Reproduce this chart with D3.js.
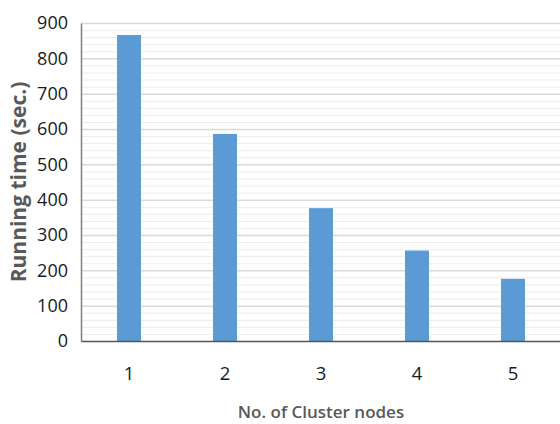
<!DOCTYPE html>
<html><head><meta charset="utf-8">
<script src="https://cdn.jsdelivr.net/npm/d3@7"></script>
<style>html,body{margin:0;padding:0;background:#fff;overflow:hidden}</style>
</head><body>
<svg id="c" width="560" height="424"></svg>
<script>
const categories = ["1","2","3","4","5"];
const runningTime = [866, 586, 376, 256, 176];
const yTicks = [0,100,200,300,400,500,600,700,800,900];
const xTitle = "No. of Cluster nodes";
const yTitle = "Running time (sec.)";

const svg = d3.select("#c");
const m = {left:81, right:561, top:23, bottom:341};
const x = d3.scaleBand().domain(categories).range([m.left, m.right]).paddingInner(0.75).paddingOuter(0.375);
const y = d3.scaleLinear().domain([0,900]).range([m.bottom, m.top]);

// minor gridlines
svg.append("g").selectAll("line").data(d3.range(0,901,20).filter(v=>v%100!==0)).join("line")
  .attr("x1",m.left).attr("x2",m.right).attr("y1",d=>y(d)+0.5).attr("y2",d=>y(d)+0.5)
  .attr("stroke","#ececec").attr("stroke-width",1);
// major gridlines
svg.append("g").selectAll("line").data(yTicks.slice(1)).join("line")
  .attr("x1",m.left).attr("x2",m.right).attr("y1",d=>y(d)+0.5).attr("y2",d=>y(d)+0.5)
  .attr("stroke","#d9d9d9").attr("stroke-width",1.5);

// bars
svg.append("g").selectAll("rect").data(runningTime).join("rect")
  .attr("x",(d,i)=>x(categories[i])).attr("width",x.bandwidth())
  .attr("y",d=>y(d)).attr("height",d=>y(0)-y(d)).attr("fill","#5b9bd5");

// y axis
const ya = svg.append("g").attr("transform",`translate(${m.left},0)`)
  .call(d3.axisLeft(y).tickValues(yTicks).tickSize(0).tickPadding(13));
ya.select(".domain").attr("stroke","#7f7f7f").attr("stroke-width",1.5);
ya.selectAll("text").attr("font-family","Open Sans").attr("font-size",18).attr("fill","#1a1a1a");

// x axis
const xa = svg.append("g").attr("transform",`translate(0,${m.bottom})`)
  .call(d3.axisBottom(x).tickSize(0).tickPadding(26));
xa.select(".domain").attr("stroke","#555").attr("stroke-width",1.5);
xa.selectAll("text").attr("font-family","Open Sans").attr("font-size",18.5).attr("fill","#1a1a1a");

svg.append("text").attr("x",(m.left+m.right)/2).attr("y",418).attr("text-anchor","middle")
  .attr("font-family","Open Sans").attr("font-weight",600).attr("font-size",17).attr("fill","#595959").text(xTitle);
svg.append("text").attr("transform",`translate(26,${(m.top+m.bottom)/2}) rotate(-90)`).attr("text-anchor","middle")
  .attr("font-family","Open Sans").attr("font-weight",700).attr("font-size",21).attr("fill","#595959").text(yTitle);
</script>
</body></html>
